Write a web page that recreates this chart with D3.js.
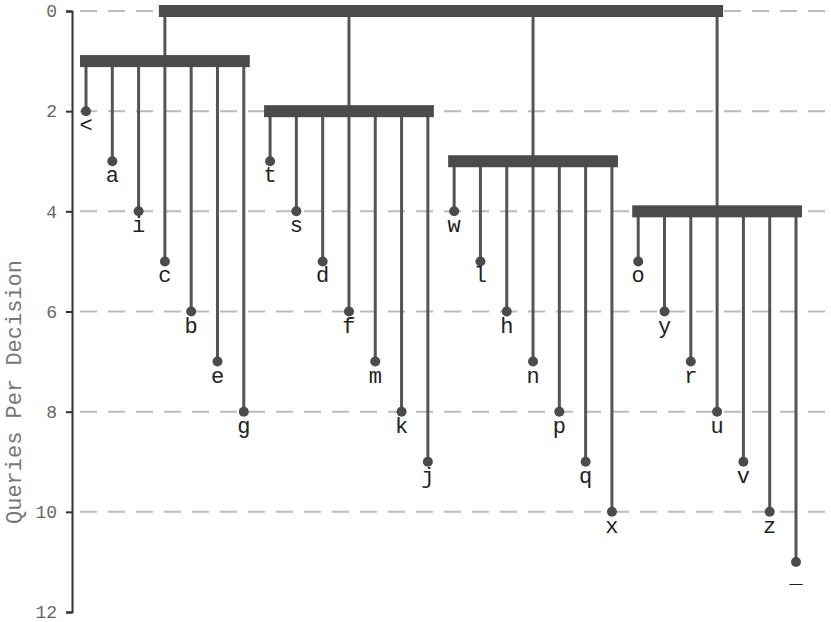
<!DOCTYPE html>
<html>
<head>
<meta charset="utf-8">
<script src="https://cdn.jsdelivr.net/npm/d3@7"></script>
<style>
  html, body { margin: 0; padding: 0; background: #fff; }
  svg { display: block; }
</style>
</head>
<body>
<svg id="chart" width="831" height="622"></svg>
<script>
// ---- data ----
const leafLabels = ["<","a","i","c","b","e","g","t","s","d","f","m","k","j","w","l","h","n","p","q","x","o","y","r","u","v","z","_"];
const leafDepths = [2,3,4,5,6,7,8, 3,4,5,6,7,8,9, 4,5,6,7,8,9,10, 5,6,7,8,9,10,11];
const leafGroup  = [0,0,0,0,0,0,0, 1,1,1,1,1,1,1, 2,2,2,2,2,2,2, 3,3,3,3,3,3,3];
const groupDepths = [1,2,3,4];
const groupAnchors = ["c","f","n","u"];
const rootDepth = 0;
const yTicks = [0,2,4,6,8,10,12];
const yTitle = "Queries Per Decision";

// ---- layout ----
const svg = d3.select("#chart");
const mono = "'Courier New', 'Liberation Mono', monospace";
const x = d3.scalePoint().domain(leafLabels).range([86, 796]).padding(0);
const y = d3.scaleLinear().domain([0, 12]).range([11, 612]);
const barColor = "#4b4b4b";
const stemColor = "#555555";
const barH = 12, barExt = 6;

// gridlines
svg.append("g").selectAll("line").data(yTicks.filter(t => t < 12)).join("line")
  .attr("x1", 80).attr("x2", 829)
  .attr("y1", d => y(d)).attr("y2", d => y(d))
  .attr("stroke", "#bbbbbb").attr("stroke-width", 2)
  .attr("stroke-dasharray", "17,11");

// axis
const axis = svg.append("g").attr("transform", "translate(72,0)")
  .call(d3.axisLeft(y).tickValues(yTicks).tickSize(6).tickPadding(9).tickFormat(d3.format("d")));
axis.select(".domain").attr("stroke", "#333").attr("stroke-width", 2);
axis.selectAll(".tick line").attr("stroke", "#333").attr("stroke-width", 2);
axis.selectAll(".tick text").attr("font-family", mono).attr("font-size", 18).attr("fill", "#666");

svg.append("text")
  .attr("transform", `translate(21,${392}) rotate(-90)`)
  .attr("text-anchor", "middle")
  .attr("font-family", mono).attr("font-size", 22).attr("fill", "#777")
  .text(yTitle);

const leaves = leafLabels.map((l, i) => ({ label: l, depth: leafDepths[i], group: leafGroup[i] }));
const groups = groupDepths.map((d, g) => {
  const xs = leaves.filter(l => l.group === g).map(l => x(l.label));
  return { depth: d, anchor: groupAnchors[g], x0: d3.min(xs), x1: d3.max(xs) };
});

// root stems to groups
svg.append("g").selectAll("line").data(groups).join("line")
  .attr("x1", d => x(d.anchor)).attr("x2", d => x(d.anchor))
  .attr("y1", y(rootDepth)).attr("y2", d => y(d.depth))
  .attr("stroke", stemColor).attr("stroke-width", 3);

// leaf stems
svg.append("g").selectAll("line").data(leaves).join("line")
  .attr("x1", d => x(d.label)).attr("x2", d => x(d.label))
  .attr("y1", d => y(groupDepths[d.group])).attr("y2", d => y(d.depth))
  .attr("stroke", stemColor).attr("stroke-width", 3);

// root bar
const ax = groupAnchors.map(a => x(a));
svg.append("rect")
  .attr("x", d3.min(ax) - barExt).attr("width", d3.max(ax) - d3.min(ax) + 2 * barExt)
  .attr("y", y(rootDepth) - barH / 2).attr("height", barH)
  .attr("fill", barColor);

// group bars
svg.append("g").selectAll("rect").data(groups).join("rect")
  .attr("x", d => d.x0 - barExt).attr("width", d => d.x1 - d.x0 + 2 * barExt)
  .attr("y", d => y(d.depth) - barH / 2).attr("height", barH)
  .attr("fill", barColor);

// dots
svg.append("g").selectAll("circle").data(leaves).join("circle")
  .attr("cx", d => x(d.label)).attr("cy", d => y(d.depth)).attr("r", 5)
  .attr("fill", barColor);

// labels
svg.append("g").selectAll("text").data(leaves).join("text")
  .attr("x", d => x(d.label)).attr("y", d => y(d.depth) + 21)
  .attr("text-anchor", "middle")
  .attr("font-family", mono).attr("font-size", 22).attr("fill", "#222")
  .text(d => d.label);
</script>
</body>
</html>
